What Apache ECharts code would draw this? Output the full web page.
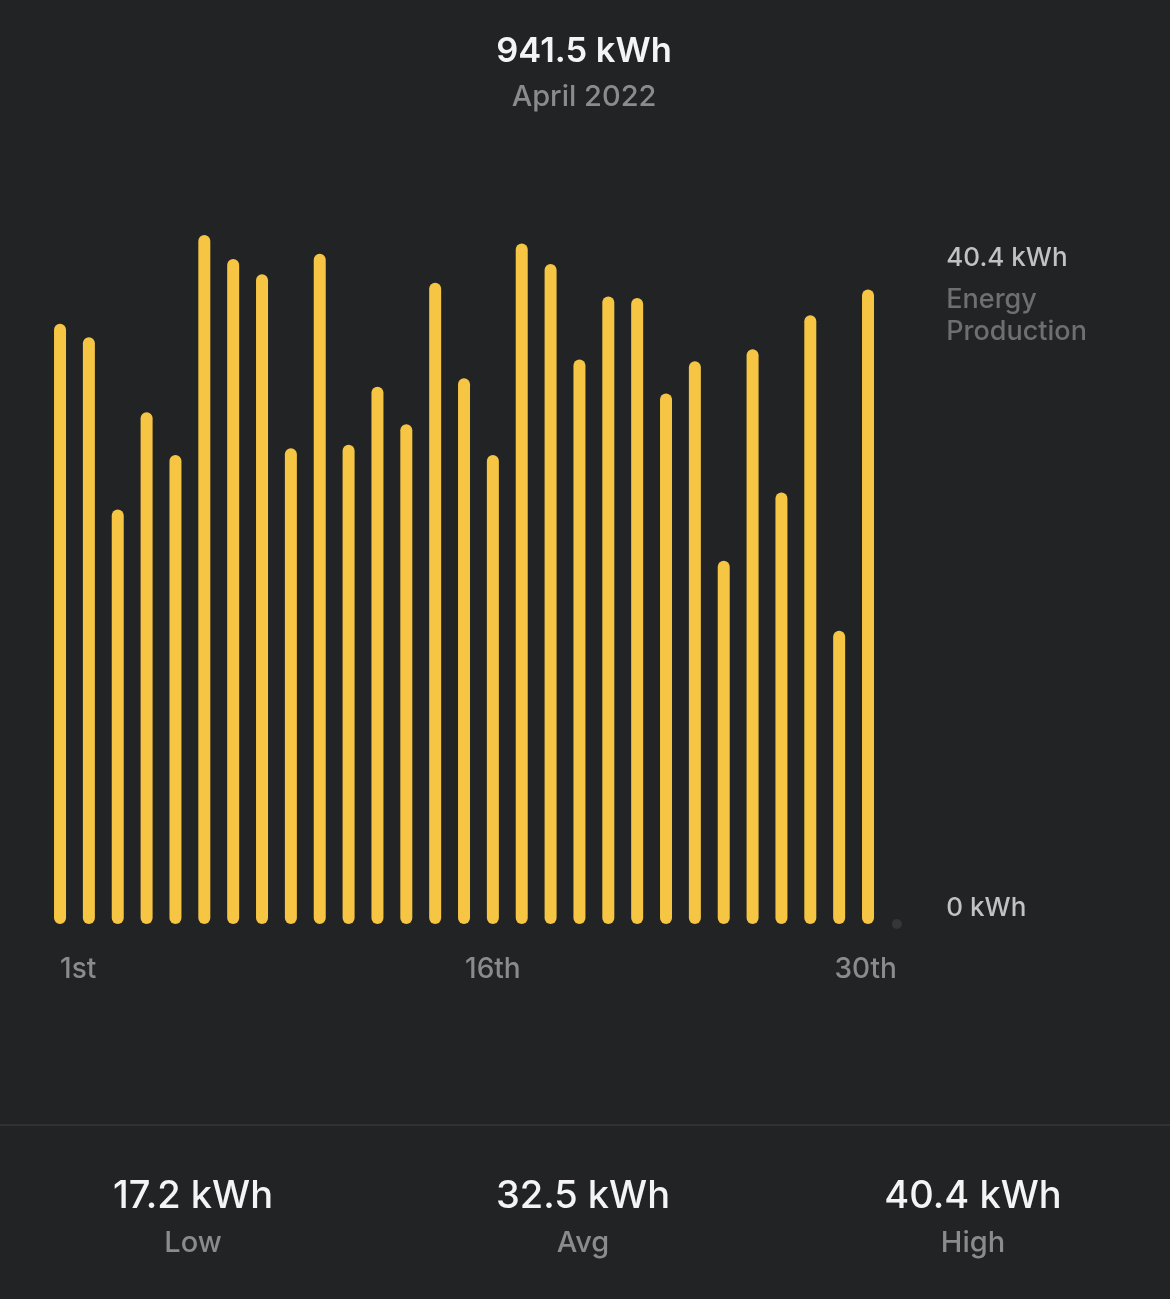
<!DOCTYPE html>
<html>
<head>
<meta charset="utf-8">
<style>
  html, body { margin: 0; padding: 0; background: #222325; }
  #chart { width: 1170px; height: 1299px; }
</style>
<script src="https://cdn.jsdelivr.net/npm/echarts@6/dist/echarts.min.js"></script>
</head>
<body>
<div id="chart"></div>
<script>
// daily production, April 2022 (kWh) - day 30 has no reading yet
var days = [];
for (var d = 1; d <= 30; d++) {
  var suf = (d === 1 || d === 21) ? 'st' : (d === 2 || d === 22) ? 'nd' : (d === 3 || d === 23) ? 'rd' : 'th';
  days.push(d + suf);
}
var production = [
  35.2, 34.4, 24.3, 30.0, 27.5, 40.4, 39.0, 38.1, 27.9, 39.3,
  28.1, 31.5, 29.3, 37.6, 32.0, 27.5, 39.9, 38.7, 33.1, 36.8,
  36.7, 31.1, 33.0, 21.3, 33.7, 25.3, 35.7, 17.2, 37.2, null
];
var shownDays = ['1st', '16th', '30th'];
var yMax = 40.4;
var yTickLabels = ['0 kWh', '40.4 kWh'];
var seriesName = ['Energy', 'Production'];

var headTotal = '941.5 kWh';
var headPeriod = 'April 2022';
var statValues = ['17.2 kWh', '32.5 kWh', '40.4 kWh'];
var statNames = ['Low', 'Avg', 'High'];

var FONT = 'Inter, "Noto Sans", sans-serif';
var YELLOW = '#F5C543';
var GREY = '#8b8b8e';

// empty days get a small dot on the baseline
var missing = [];
production.forEach(function(v, i) {
  if (v === null) missing.push([i, 0]);
});

var statX = [193, 583, 973];
var graphics = [
  { type: 'text', x: 584, y: 52, style: { text: headTotal, fill: '#f4f4f4', font: '600 34.5px ' + FONT, align: 'center', verticalAlign: 'middle' } },
  { type: 'text', x: 584, y: 97, style: { text: headPeriod, fill: GREY, font: '500 29px ' + FONT, align: 'center', verticalAlign: 'middle' } },
  { type: 'line', shape: { x1: 0, y1: 1125, x2: 1170, y2: 1125 }, style: { stroke: '#303134', lineWidth: 2 } }
];
statValues.forEach(function(s, i) {
  graphics.push({ type: 'text', x: statX[i], y: 1197, style: { text: s, fill: '#f4f4f4', font: '500 38px ' + FONT, align: 'center', verticalAlign: 'middle' } });
  graphics.push({ type: 'text', x: statX[i], y: 1243, style: { text: statNames[i], fill: GREY, font: '500 29px ' + FONT, align: 'center', verticalAlign: 'middle' } });
});

var chart = echarts.init(document.getElementById('chart'));

chart.setOption({
  backgroundColor: '#222325',
  animation: false,
  graphic: graphics,
  grid: { left: 45.6, right: 258.7, top: 235, bottom: 375, outerBoundsMode: 'none' },
  xAxis: {
    type: 'category',
    data: days,
    axisLine: { show: false },
    axisTick: { show: false },
    axisLabel: {
      interval: function(i, name) { return shownDays.indexOf(name) >= 0; },
      margin: 32,
      color: GREY,
      fontFamily: FONT,
      fontSize: 28,
      fontWeight: 500,
      lineHeight: 28,
      alignMinLabel: 'left',
      alignMaxLabel: 'right'
    }
  },
  yAxis: [
    {
      type: 'value', position: 'right', min: 0, max: yMax, interval: yMax,
      axisLine: { show: false }, axisTick: { show: false }, splitLine: { show: false },
      axisLabel: {
        margin: 35,
        verticalAlign: 'top',
        formatter: function(v) {
          if (Math.abs(v - yMax) > 0.01) return '';
          return '{v|' + yTickLabels[1] + '}\n{e|' + seriesName[0] + '}\n{p|' + seriesName[1] + '}';
        },
        rich: {
          v: { color: '#c2c2c4', fontFamily: FONT, fontSize: 26, fontWeight: 500, lineHeight: 46 },
          e: { color: '#6f6f72', fontFamily: FONT, fontSize: 27, fontWeight: 500, lineHeight: 38 },
          p: { color: '#6f6f72', fontFamily: FONT, fontSize: 27, fontWeight: 500, lineHeight: 26 }
        }
      }
    },
    {
      type: 'value', position: 'right', min: 0, max: yMax, interval: yMax,
      axisLine: { show: false }, axisTick: { show: false }, splitLine: { show: false },
      axisLabel: {
        margin: 35,
        verticalAlign: 'bottom',
        color: '#c2c2c4', fontFamily: FONT, fontSize: 26, fontWeight: 500, lineHeight: 32,
        formatter: function(v) { return v === 0 ? yTickLabels[0] : ''; }
      }
    }
  ],
  series: [
    {
      name: 'Energy Production',
      type: 'bar',
      yAxisIndex: 0,
      data: production,
      barWidth: 12,
      itemStyle: { color: YELLOW, borderRadius: 6 }
    },
    {
      type: 'scatter',
      yAxisIndex: 0,
      data: missing,
      symbolSize: 10,
      itemStyle: { color: '#3a3b3e' },
      z: 1
    }
  ]
});
</script>
</body>
</html>
